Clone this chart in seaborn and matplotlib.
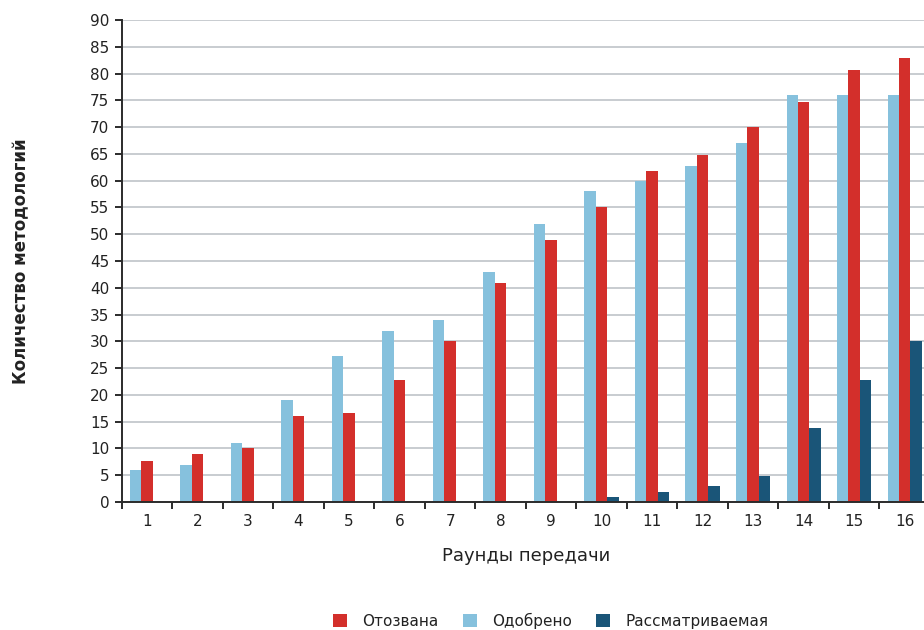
import matplotlib
matplotlib.use("Agg")
import matplotlib.pyplot as plt
from matplotlib.patches import Patch
from matplotlib.ticker import MultipleLocator, FixedLocator
import numpy as np
import pandas as pd
import seaborn as sns

# Methodology counts per transfer round
rounds = [str(i) for i in range(1, 17)]
approved = [6, 7, 11, 19, 27.2, 32, 34, 43, 52, 58, 60, 62.7, 67, 76, 76, 76]
withdrawn = [7.6, 9, 10, 16, 16.7, 22.7, 30, 40.8, 49, 55, 61.8, 64.8, 70, 74.7, 80.6, 82.9]
pending = [0, 0, 0, 0, 0, 0, 0, 0, 0, 1, 1.8, 3, 4.9, 13.8, 22.7, 30.1]

series_names = ["Одобрено", "Отозвана", "Рассматриваемая"]
series_colors = {"Одобрено": "#86c1dd", "Отозвана": "#d32f2b", "Рассматриваемая": "#1a5578"}
legend_order = ["Отозвана", "Одобрено", "Рассматриваемая"]

df = pd.DataFrame({
    "round": rounds * 3,
    "count": approved + withdrawn + pending,
    "status": [series_names[0]] * 16 + [series_names[1]] * 16 + [series_names[2]] * 16,
})

sns.set_theme(style="white")
plt.rcParams["font.family"] = ["DejaVu Sans"]
text_color = "#222222"

fig = plt.figure(figsize=(9.24, 6.3), dpi=100)
ax = fig.add_axes([121.7 / 924, 1 - 502 / 630, 808.3 / 924, 482 / 630])

sns.barplot(data=df, x="round", y="count", hue="status", order=rounds,
            hue_order=series_names, palette=series_colors, saturation=1,
            width=0.68, gap=0, errorbar=None, legend=False, linewidth=0,
            edgecolor="none", ax=ax)

ax.set_xlim(-0.5, 15.5)
ax.set_ylim(0, 90)
ax.yaxis.set_major_locator(MultipleLocator(5))
ax.set_axisbelow(True)
ax.yaxis.grid(True, color="#c8ccd0", linewidth=1.4)
ax.xaxis.grid(False)

for side in ("top", "right"):
    ax.spines[side].set_visible(False)
for side in ("left", "bottom"):
    ax.spines[side].set_color("#2b2b2b")
    ax.spines[side].set_linewidth(1.4)

# Separators between round groups on the x axis
ax.xaxis.set_minor_locator(FixedLocator(np.arange(-0.5, 16, 1.0)))
ax.tick_params(axis="x", which="major", length=0, pad=9, labelsize=11, labelcolor=text_color)
ax.tick_params(axis="x", which="minor", length=5, width=1.4, color="#2b2b2b", direction="out", bottom=True)
ax.tick_params(axis="y", which="major", length=5, width=1.4, color="#2b2b2b", direction="out",
               left=True, pad=4, labelsize=11, labelcolor=text_color)

ax.set_xlabel("Раунды передачи", fontsize=13, color=text_color)
ax.xaxis.set_label_coords(0.5, -0.093)
ax.set_ylabel("Количество методологий", fontsize=12, fontweight="bold", color=text_color)
ax.yaxis.set_label_coords(-0.113, 0.5)

handles = [Patch(facecolor=series_colors[n], edgecolor="none", label=n) for n in legend_order]
fig.legend(handles=handles, loc="lower center", bbox_to_anchor=(0.596, -0.02), ncol=3,
           frameon=False, fontsize=11, handlelength=0.9, handleheight=0.9,
           handletextpad=1.0, columnspacing=1.6, labelcolor=text_color)

fig.savefig("out.png", dpi=100)
